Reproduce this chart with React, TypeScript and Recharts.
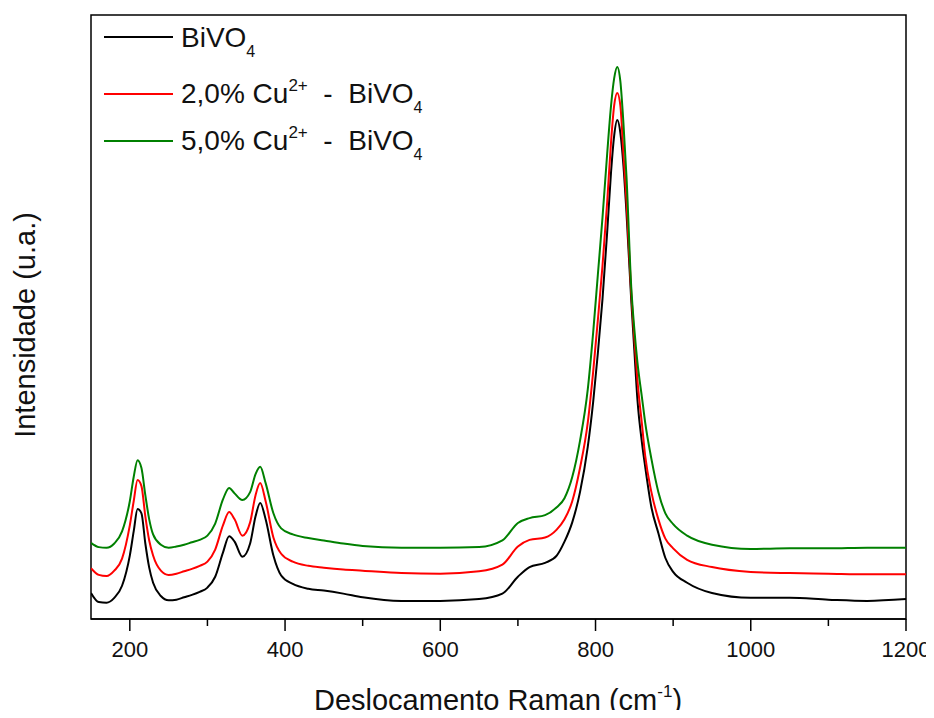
import React from 'react'
import {
  LineChart, Line, XAxis, YAxis, ReferenceArea, Legend,
} from 'recharts'

// Raman shift (cm-1)
const shifts = [
  150, 160, 170, 180, 190, 200, 205, 210, 215, 220, 225, 230, 240, 250, 260, 270, 280, 290, 300, 310,
  320, 328, 335, 345, 355, 362, 368, 375, 385, 395, 410, 430, 450, 475, 500, 550, 600, 650, 680, 700,
  715, 735, 750, 760, 770, 780, 790, 797, 803, 809, 815, 820, 824, 828, 832, 836, 840, 846, 850, 854,
  860, 864, 872, 881, 890, 900, 918, 950, 1000, 1050, 1100, 1150, 1200,
]

const bivo4 = [
  4.3, 2.8, 2.7, 3.5, 5.5, 10.5, 14.5, 18.2, 17.5, 12.5, 8.5, 6.0, 3.8, 3.1, 3.2, 3.6, 4.0, 4.5, 5.2, 7.0,
  11.0, 13.7, 12.8, 10.3, 12.5, 17.0, 19.2, 16.5, 10.5, 7.2, 5.8, 5.0, 4.7, 4.2, 3.6, 3.0, 3.0, 3.3, 4.2, 7.0,
  8.6, 9.3, 10.5, 12.8, 16.0, 21.0, 28.5, 36.0, 44.0, 53.0, 64.0, 74.0, 80.0, 82.6, 80.5, 75.0, 67.0, 52.8, 44.5, 36.3,
  29.0, 25.2, 18.5, 14.2, 10.1, 7.8, 6.0, 4.3, 3.5, 3.5, 3.2, 3.0, 3.3,
]

const cu2 = [
  8.4, 7.3, 7.1, 8.0, 10.0, 15.5, 19.5, 23.0, 22.0, 17.0, 13.0, 10.5, 8.0, 7.3, 7.5, 7.9, 8.3, 8.8, 9.5, 11.5,
  15.5, 17.7, 16.5, 13.8, 16.0, 20.5, 22.5, 19.5, 13.5, 10.8, 9.5, 8.8, 8.5, 8.2, 8.0, 7.6, 7.5, 7.9, 9.0, 12.0,
  13.1, 13.5, 14.8, 16.5, 19.5, 25.0, 32.5, 41.0, 49.5, 58.5, 69.0, 79.0, 85.0, 87.1, 85.0, 77.0, 69.0, 54.0, 46.5, 39.5,
  32.0, 27.0, 21.0, 16.5, 13.3, 11.7, 9.8, 8.6, 7.8, 7.6, 7.5, 7.4, 7.4,
]

const cu5 = [
  12.6, 11.9, 11.8, 12.5, 14.5, 19.5, 23.5, 26.3, 25.0, 20.5, 16.5, 14.0, 12.3, 11.8, 12.0, 12.3, 12.7, 13.1, 13.8, 15.8,
  19.8, 21.7, 20.8, 19.7, 21.0, 24.0, 25.2, 22.5, 17.5, 15.0, 14.0, 13.4, 13.0, 12.5, 12.1, 11.8, 11.8, 11.9, 13.0, 15.9,
  16.7, 17.2, 18.5, 20.0, 23.5, 29.5, 38.0, 47.5, 57.0, 66.5, 77.0, 85.0, 89.5, 91.4, 89.0, 82.0, 73.0, 55.0, 48.0, 42.5,
  36.5, 32.5, 26.5, 21.0, 17.5, 15.7, 13.8, 12.3, 11.6, 11.7, 11.7, 11.8, 11.8,
]

const xTicks = [200, 300, 400, 500, 600, 700, 800, 900, 1000, 1100, 1200]

const data = shifts.map((x, i) => ({ x, bivo4: bivo4[i], cu2: cu2[i], cu5: cu5[i] }))

const FONT = '"Liberation Sans", Arial, sans-serif'

const AxisTick = (props: any) => {
  const { x, y, payload } = props
  const major = payload.value % 200 === 0
  return (
    <g>
      <line x1={x} x2={x} y1={y} y2={y + (major ? 12 : 7)} stroke="#000" strokeWidth={1.5} />
      {major && (
        <text x={x} y={y + 38} textAnchor="middle" fontSize={22} fontFamily={FONT} fill="#111">
          {payload.value}
        </text>
      )}
    </g>
  )
}

// both axis titles, drawn at fixed spots
const Titles = () => (
  <g>
    <text x={498} y={710} textAnchor="middle" fontSize={29} fontFamily={FONT} fill="#111">
      Deslocamento Raman (cm
      <tspan fontSize={17} dy={-13}>-1</tspan>
      <tspan dy={13}>)</tspan>
    </text>
    <text x={35} y={325} transform="rotate(-90, 35, 325)" textAnchor="middle" fontSize={29}
      fontFamily={FONT} fill="#111">
      Intensidade (u.a.)
    </text>
  </g>
)

const legendRows = [
  { color: '#000000', pre: 'BiVO', sup: '', post: '' },
  { color: '#ff0000', pre: '2,0% Cu', sup: '2+', post: '  -  BiVO' },
  { color: '#008000', pre: '5,0% Cu', sup: '2+', post: '  -  BiVO' },
]
const legendLineY = [29, 86, 133]
const legendBase = [39, 95, 142]

const renderLegend = () => (
  <svg width={380} height={160} style={{ overflow: 'visible' }}>
    {legendRows.map((r, i) => (
      <g key={i}>
        <line x1={8} x2={77} y1={legendLineY[i]} y2={legendLineY[i]} stroke={r.color} strokeWidth={2} />
        <text x={85} y={legendBase[i]} fontSize={28} fontFamily={FONT} fill="#111" style={{ whiteSpace: 'pre' }}>
          {r.pre}
          {r.sup && <tspan fontSize={17} dy={-12}>{r.sup}</tspan>}
          {r.sup && <tspan dy={12}>{r.post}</tspan>}
          <tspan fontSize={16} dy={10}>4</tspan>
        </text>
      </g>
    ))}
  </svg>
)

export default function App() {
  // cancel the body margin so the chart fills the 934x718 window
  return (
    <div style={{ width: 934, height: 718, margin: -8, background: '#fff' }}>
      <LineChart width={934} height={718} data={data} margin={{ top: 15, right: 28, left: 91, bottom: 39 }}>
        <XAxis
          type="number"
          dataKey="x"
          domain={[150, 1200]}
          ticks={xTicks}
          interval={0}
          allowDataOverflow
          height={60}
          tickSize={0}
          tickMargin={0}
          tickLine={false}
          axisLine={{ stroke: '#000', strokeWidth: 1.5 }}
          tick={<AxisTick />}
          label={{ content: () => <Titles /> }}
        />
        <YAxis type="number" domain={[0, 100]} hide allowDataOverflow />
        <ReferenceArea x1={150} x2={1200} y1={0} y2={100} fill="none" stroke="#000" strokeWidth={1.5} />
        <Line type="monotone" dataKey="bivo4" stroke="#000000" strokeWidth={2} dot={false} isAnimationActive={false} />
        <Line type="monotone" dataKey="cu2" stroke="#ff0000" strokeWidth={2} dot={false} isAnimationActive={false} />
        <Line type="monotone" dataKey="cu5" stroke="#008000" strokeWidth={2} dot={false} isAnimationActive={false} />
        <Legend
          layout="vertical"
          align="center"
          verticalAlign="middle"
          wrapperStyle={{ position: 'absolute', left: 96, top: 8, width: 380, height: 160 }}
          content={renderLegend}
        />
      </LineChart>
    </div>
  )
}
